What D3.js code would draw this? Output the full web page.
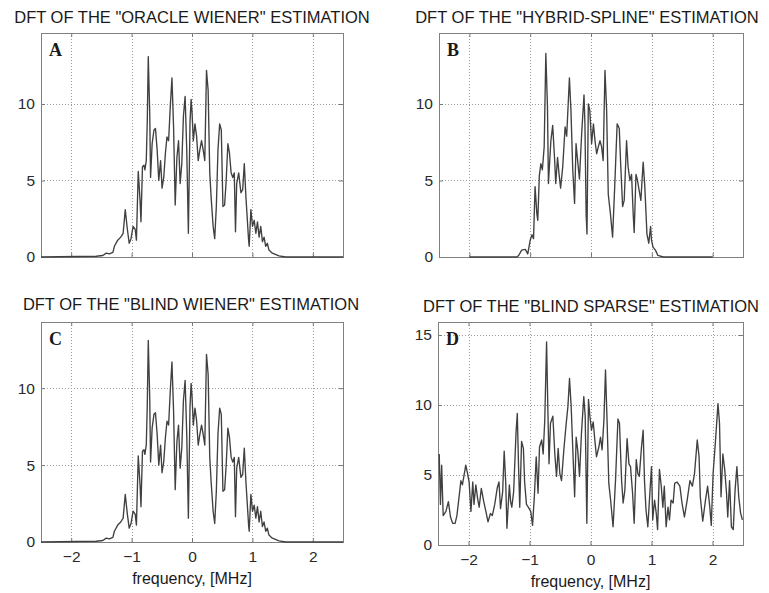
<!DOCTYPE html>
<html lang="en">
  <head>
    <meta charset="UTF-8" />
    <title>DFT of the estimations</title>
    <style>
      body {
        margin: 0;
        background-color: #fff;
      }
      svg {
        display: block;
        font-family: "Liberation Sans", Arial, sans-serif;
      }
      .grid line {
        stroke: #9a9a9a;
        stroke-width: 1px;
        stroke-dasharray: 1, 2;
      }
      .frame {
        fill: none;
        stroke: #808080;
        stroke-width: 1px;
      }
      .tick text {
        font-size: 15.5px;
        fill: #2a2a2a;
      }
      .tick line {
        stroke: #777;
      }
      .trace {
        fill: none;
        stroke: #404040;
        stroke-width: 1.35px;
        stroke-linejoin: round;
      }
      .title {
        font-size: 16.5px;
        fill: #1a1a1a;
      }
      .xlabel {
        font-size: 16px;
        fill: #1a1a1a;
      }
      .letter {
        font-family: "Liberation Serif", "Times New Roman", serif;
        font-weight: bold;
        font-size: 18px;
        fill: #1a1a1a;
      }
    </style>
  </head>
  <body>
    <svg id="chart"></svg>

    <script src="https://d3js.org/d3.v7.min.js"></script>
    <script>
      const width = 769;
      const height = 593;

      // frequency ticks, MHz
      const freqTicks = [-2, -1, 0, 1, 2];

      // A: "oracle Wiener" estimation
      const freqOracle = [
        -2.5, -1.585, -1.476, -1.42, -1.37, -1.31, -1.285, -1.23, -1.18, -1.14,
        -1.105, -1.07, -1.04, -1.01, -0.975, -0.94, -0.92, -0.89, -0.86, -0.845,
        -0.82, -0.795, -0.78, -0.757, -0.74, -0.724, -0.7, -0.686, -0.66, -0.63,
        -0.605, -0.577, -0.55, -0.52, -0.496, -0.468, -0.44, -0.414, -0.387, -0.36,
        -0.332, -0.305, -0.278, -0.25, -0.223, -0.196, -0.169, -0.142, -0.114, -0.087,
        -0.06, -0.033, -0.015, 0.0, 0.022, 0.049, 0.076, 0.103, 0.13, 0.158,
        0.185, 0.212, 0.24, 0.267, 0.294, 0.32, 0.35, 0.376, 0.403, 0.43,
        0.458, 0.485, 0.512, 0.54, 0.566, 0.594, 0.62, 0.648, 0.675, 0.7,
        0.72, 0.74, 0.773, 0.81, 0.839, 0.866, 0.893, 0.937, 0.947, 0.975,
        1.002, 1.03, 1.057, 1.084, 1.111, 1.138, 1.166, 1.193, 1.22, 1.247,
        1.274, 1.33, 1.44, 1.55, 2.5,
      ];
      const magOracle = [
        0, 0.05, 0.1, 0.25, 0.2, 0.3, 0.7, 1.1, 1.3, 1.55,
        3.1, 1.8, 0.9, 1.2, 2.0, 1.8, 1.1, 5.6, 3.7, 2.3,
        5.9, 6.0, 5.7, 6.3, 9.0, 13.1, 9.4, 5.2, 7.4, 8.3,
        8.4, 7.0, 5.0, 6.3, 4.5, 5.2, 6.8, 7.85, 7.6, 9.8,
        11.7, 8.5, 3.4, 6.5, 7.6, 4.8, 6.1, 9.2, 10.5, 7.0,
        1.55, 8.8, 10.3, 9.5, 7.6, 8.7, 7.9, 6.3, 7.0, 7.6,
        7.0, 6.3, 12.2, 10.9, 5.5, 3.7, 2.0, 1.2, 3.3, 7.0,
        8.7, 8.3, 3.3, 3.4, 5.0, 7.4, 6.8, 5.5, 5.2, 5.5,
        1.65, 4.8, 5.5, 4.2, 4.4, 6.1, 3.9, 1.1, 0.7, 3.1,
        2.0, 2.4, 1.55, 2.3, 1.3, 2.0, 1.0, 1.3, 0.7, 0.9,
        0.45, 0.25, 0.07, 0, 0,
      ];

      // B: "hybrid-spline" estimation
      const freqSpline = [
        -2.0, -1.22, -1.19, -1.14, -1.08, -1.04, -1.0, -0.97, -0.945, -0.92,
        -0.89, -0.875, -0.85, -0.825, -0.8, -0.77, -0.743, -0.716, -0.7, -0.66,
        -0.63, -0.6, -0.58, -0.55, -0.525, -0.5, -0.465, -0.426, -0.4, -0.355,
        -0.33, -0.3, -0.27, -0.246, -0.22, -0.19, -0.153, -0.115, -0.1, -0.08,
        -0.066, -0.044, -0.02, 0.01, 0.04, 0.066, 0.093, 0.12, 0.148, 0.175,
        0.2, 0.23, 0.257, 0.284, 0.32, 0.355, 0.39, 0.43, 0.465, 0.49,
        0.52, 0.546, 0.585, 0.61, 0.64, 0.667, 0.694, 0.71, 0.74, 0.765,
        0.79, 0.82, 0.858, 0.885, 0.92, 0.95, 0.98, 0.995, 1.02, 1.06,
        1.1, 1.19, 2.0,
      ];
      const magSpline = [
        0, 0, 0.1, 0.45, 0.5, 0.2, 1.1, 1.45, 1.2, 4.6,
        2.8, 2.4, 5.3, 6.1, 5.7, 7.2, 13.3, 9.8, 4.8, 7.6,
        8.6, 6.5, 4.8, 6.5, 5.4, 4.5, 5.9, 8.5, 7.9, 11.7,
        9.6, 5.7, 3.5, 7.4, 6.3, 5.1, 8.1, 10.6, 8.7, 2.8,
        1.5, 10.0, 9.6, 7.4, 8.7, 7.6, 6.75, 7.2, 7.6, 7.2,
        6.3, 12.2, 9.6, 4.1, 2.8, 1.3, 4.6, 8.7, 8.4, 5.9,
        3.3, 3.7, 7.6, 5.9, 5.0, 5.4, 2.8, 1.6, 5.4, 5.0,
        4.4, 3.7, 6.2, 4.6, 1.5, 0.9, 2.0, 1.1, 0.65, 0.45,
        0.1, 0, 0,
      ];

      // C: "blind Wiener" estimation (indistinguishable from A in the picture)
      const freqBlindWiener = freqOracle.slice();
      const magBlindWiener = magOracle.slice();

      // D: "blind sparse" estimation
      const freqSparse = [
        -2.48, -2.46, -2.44, -2.415, -2.37, -2.33, -2.295, -2.26, -2.22, -2.19,
        -2.15, -2.125, -2.1, -2.08, -2.045, -2.02, -1.99, -1.96, -1.93, -1.91,
        -1.88, -1.85, -1.825, -1.79, -1.75, -1.715, -1.68, -1.64, -1.61, -1.57,
        -1.53, -1.5, -1.475, -1.44, -1.415, -1.39, -1.37, -1.33, -1.31, -1.29,
        -1.26, -1.22, -1.2, -1.18, -1.16, -1.13, -1.1, -1.08, -1.05, -1.02,
        -0.98, -0.95, -0.92, -0.89, -0.86, -0.836, -0.8, -0.776, -0.75, -0.72,
        -0.7, -0.68, -0.656, -0.617, -0.585, -0.557, -0.53, -0.503, -0.475, -0.437,
        -0.4, -0.37, -0.344, -0.317, -0.29, -0.26, -0.235, -0.21, -0.18, -0.148,
        -0.11, -0.087, -0.06, -0.033, -0.01, 0.016, 0.044, 0.071, 0.098, 0.137,
        0.164, 0.19, 0.22, 0.246, 0.273, 0.3, 0.33, 0.37, 0.41, 0.45,
        0.475, 0.51, 0.535, 0.563, 0.6, 0.63, 0.656, 0.69, 0.716, 0.75,
        0.776, 0.8, 0.836, 0.863, 0.885, 0.91, 0.94, 0.973, 1.0, 1.02,
        1.05, 1.077, 1.1, 1.13, 1.16, 1.186, 1.21, 1.24, 1.27, 1.295,
        1.32, 1.355, 1.38, 1.42, 1.465, 1.5, 1.54, 1.585, 1.63, 1.67,
        1.705, 1.75, 1.78, 1.8, 1.84, 1.885, 1.92, 1.956, 1.98, 2.01,
        2.05, 2.09, 2.115, 2.14, 2.17, 2.2, 2.23, 2.25, 2.28, 2.31,
        2.34, 2.37, 2.4, 2.43, 2.46, 2.49,
      ];
      const magSparse = [
        6.5, 2.9, 5.7, 2.1, 2.4, 3.1, 2.0, 1.55, 1.55, 2.1,
        3.6, 4.6, 4.3, 4.8, 5.7, 5.2, 4.5, 2.4, 4.5, 2.9,
        4.3, 3.3, 2.7, 4.05, 3.1, 2.4, 1.65, 2.25, 2.1, 2.9,
        4.05, 4.5, 2.6, 3.8, 6.7, 4.5, 1.2, 4.3, 3.1, 2.7,
        3.8, 8.1, 9.4, 5.7, 2.7, 7.4, 6.9, 4.5, 2.9, 2.7,
        2.4, 1.4, 3.5, 6.3, 3.7, 7.0, 7.5, 6.5, 8.9, 14.5,
        9.9, 5.8, 8.7, 9.2, 6.5, 4.9, 6.9, 5.1, 4.6, 6.8,
        8.6, 9.9, 11.9, 9.9, 6.8, 3.45, 7.7, 6.8, 4.9, 8.0,
        10.6, 9.2, 1.55, 10.4, 9.2, 8.2, 8.8, 7.5, 6.3, 7.0,
        7.7, 6.8, 8.9, 12.5, 8.7, 4.4, 3.2, 1.3, 4.6, 9.0,
        8.7, 4.6, 3.0, 3.9, 7.6, 5.8, 5.6, 3.7, 1.55, 6.1,
        5.1, 4.9, 7.0, 8.2, 4.6, 2.5, 1.3, 3.7, 5.6, 1.8,
        3.2, 2.3, 1.1, 5.4, 4.2, 2.7, 4.2, 1.3, 2.7, 1.8,
        3.2, 3.0, 4.4, 4.5, 4.2, 3.0, 2.0, 3.2, 4.6, 4.2,
        5.1, 7.5, 6.3, 3.45, 1.7, 3.2, 4.2, 2.7, 1.4, 5.1,
        7.5, 10.1, 8.7, 3.45, 6.5, 5.4, 3.7, 2.0, 4.6, 1.3,
        1.1, 3.9, 5.6, 3.45, 2.3, 1.8,
      ];

      const panels = [
        {
          title: 'DFT OF THE "ORACLE WIENER" ESTIMATION',
          letter: "A",
          freq: freqOracle,
          mag: magOracle,
          box: { x0: 41, x1: 343, y0: 33, y1: 257 },
          yMax: 14.64,
          yTicks: [0, 5, 10],
          titleX: 192,
          titleY: 23,
          xLabels: false,
        },
        {
          title: 'DFT OF THE "HYBRID-SPLINE" ESTIMATION',
          letter: "B",
          freq: freqSpline,
          mag: magSpline,
          box: { x0: 439, x1: 743, y0: 33, y1: 257 },
          yMax: 14.64,
          yTicks: [0, 5, 10],
          titleX: 587,
          titleY: 23,
          xLabels: false,
        },
        {
          title: 'DFT OF THE "BLIND WIENER" ESTIMATION',
          letter: "C",
          freq: freqBlindWiener,
          mag: magBlindWiener,
          box: { x0: 41, x1: 343, y0: 322, y1: 542 },
          yMax: 14.3,
          yTicks: [0, 5, 10],
          titleX: 191,
          titleY: 310,
          xLabels: true,
        },
        {
          title: 'DFT OF THE "BLIND SPARSE" ESTIMATION',
          letter: "D",
          freq: freqSparse,
          mag: magSparse,
          box: { x0: 438, x1: 743, y0: 322, y1: 545 },
          yMax: 15.93,
          yTicks: [0, 5, 10, 15],
          titleX: 591,
          titleY: 312,
          xLabels: true,
        },
      ];

      const svg = d3
        .select("#chart")
        .attr("width", width)
        .attr("height", height)
        .attr("viewBox", `0 0 ${width} ${height}`);

      panels.forEach((p, i) => {
        if (p.freq.length !== p.mag.length) {
          console.error("length mismatch in panel", p.letter, p.freq.length, p.mag.length);
        }
        const b = p.box;
        const x = d3.scaleLinear().domain([-2.5, 2.5]).range([b.x0, b.x1]);
        const y = d3.scaleLinear().domain([0, p.yMax]).range([b.y1, b.y0]);

        const g = svg.append("g").attr("class", "panel");

        g.append("clipPath")
          .attr("id", "clip" + i)
          .append("rect")
          .attr("x", b.x0)
          .attr("y", b.y0 - 1)
          .attr("width", b.x1 - b.x0)
          .attr("height", b.y1 - b.y0 + 2);

        // dotted grid
        const grid = g.append("g").attr("class", "grid");
        grid
          .selectAll("line.v")
          .data(freqTicks)
          .join("line")
          .attr("class", "v")
          .attr("x1", (d) => Math.round(x(d)) + 0.5)
          .attr("x2", (d) => Math.round(x(d)) + 0.5)
          .attr("y1", b.y0)
          .attr("y2", b.y1);
        grid
          .selectAll("line.h")
          .data(p.yTicks.filter((d) => d > 0))
          .join("line")
          .attr("class", "h")
          .attr("x1", b.x0)
          .attr("x2", b.x1)
          .attr("y1", (d) => Math.round(y(d)) + 0.5)
          .attr("y2", (d) => Math.round(y(d)) + 0.5);

        // ticks pointing inwards, labels outside
        g.append("g")
          .attr("transform", `translate(${b.x0},0)`)
          .call(d3.axisLeft(y).tickValues(p.yTicks).tickSize(-4).tickPadding(6))
          .call((a) => a.select(".domain").remove());
        g.append("g")
          .attr("transform", `translate(${b.x1},0)`)
          .call(d3.axisRight(y).tickValues(p.yTicks).tickSize(-4).tickFormat(""))
          .call((a) => a.select(".domain").remove());
        g.append("g")
          .attr("transform", `translate(0,${b.y1})`)
          .call(
            d3
              .axisBottom(x)
              .tickValues(freqTicks)
              .tickSize(-4)
              .tickPadding(9)
              .tickFormat(p.xLabels ? d3.format("d") : "")
          )
          .call((a) => a.select(".domain").remove());
        g.append("g")
          .attr("transform", `translate(0,${b.y0})`)
          .call(d3.axisTop(x).tickValues(freqTicks).tickSize(-4).tickFormat(""))
          .call((a) => a.select(".domain").remove());

        g.append("rect")
          .attr("class", "frame")
          .attr("x", b.x0 + 0.5)
          .attr("y", b.y0 + 0.5)
          .attr("width", b.x1 - b.x0)
          .attr("height", b.y1 - b.y0);

        const line = d3
          .line()
          .x((d, k) => x(p.freq[k]))
          .y((d) => y(d));

        g.append("path")
          .attr("class", "trace")
          .attr("clip-path", `url(#clip${i})`)
          .attr("d", line(p.mag));

        g.append("text")
          .attr("class", "letter")
          .attr("x", b.x0 + 8)
          .attr("y", b.y0 + 23)
          .text(p.letter);

        g.append("text")
          .attr("class", "title")
          .attr("x", p.titleX)
          .attr("y", p.titleY)
          .attr("text-anchor", "middle")
          .text(p.title);

        if (p.xLabels) {
          g.append("text")
            .attr("class", "xlabel")
            .attr("x", (b.x0 + b.x1) / 2)
            .attr("y", b.y1 + 42)
            .attr("text-anchor", "middle")
            .text("frequency, [MHz]");
        }
      });
    </script>
  </body>
</html>
